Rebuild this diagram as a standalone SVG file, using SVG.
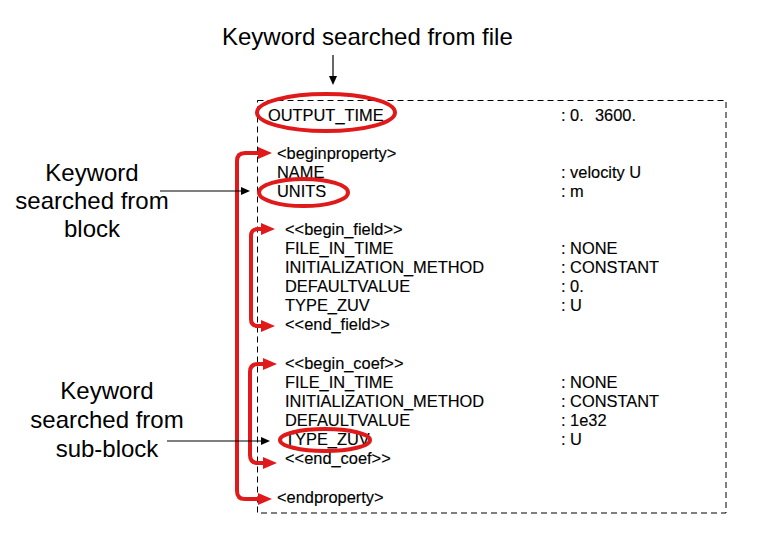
<svg xmlns="http://www.w3.org/2000/svg" width="757" height="537" viewBox="0 0 757 537">
  <style>
    .lbl { font-family: "Liberation Sans", Arial, sans-serif; font-size: 24px; fill: #000; }
    .code { font-family: "Liberation Sans", Arial, sans-serif; font-size: 16.4px; fill: #000; stroke: #000; stroke-width: 0.15; }
    .red { fill: none; stroke: #e01a1a; stroke-width: 4; }
    .blk { fill: none; stroke: #000; stroke-width: 1.2; }
  </style>
  <defs>
    <marker id="redHead" markerUnits="userSpaceOnUse" markerWidth="14" markerHeight="12" viewBox="0 0 14 12" refX="1" refY="6" orient="auto-start-reverse">
      <path d="M0,0 L14,6 L0,12 z" fill="#e01a1a"/>
    </marker>
    <marker id="blkHead" markerUnits="userSpaceOnUse" markerWidth="9" markerHeight="8" viewBox="0 0 9 8" refX="1" refY="4" orient="auto">
      <path d="M0,0 L9,4 L0,8 z" fill="#000"/>
    </marker>
  </defs>
  <rect width="757" height="537" fill="#fff"/>

  <g id="file-box">
    <rect x="257.5" y="100.5" width="468.5" height="412.5" fill="none" stroke="#000" stroke-width="1" stroke-dasharray="6,4"/>
  </g>

  <g id="label-file">
    <text class="lbl" x="222" y="45">Keyword searched from file</text>
  </g>
  <g id="label-block">
    <text class="lbl" x="92" y="181" text-anchor="middle">Keyword</text>
    <text class="lbl" x="92" y="209" text-anchor="middle">searched from</text>
    <text class="lbl" x="92" y="237" text-anchor="middle">block</text>
  </g>
  <g id="label-subblock">
    <text class="lbl" x="107" y="399" text-anchor="middle">Keyword</text>
    <text class="lbl" x="107" y="428" text-anchor="middle">searched from</text>
    <text class="lbl" x="107" y="457" text-anchor="middle">sub-block</text>
  </g>

  <g id="listing">
    <text class="code" x="268" y="121">OUTPUT_TIME</text>
    <text class="code" x="561" y="121">: 0.</text>
    <text class="code" x="595" y="121">3600.</text>

    <text class="code" x="277" y="159">&lt;beginproperty&gt;</text>
    <text class="code" x="277" y="178">NAME</text>
    <text class="code" x="561" y="178">: velocity U</text>
    <text class="code" x="277" y="197">UNITS</text>
    <text class="code" x="561" y="197">: m</text>

    <text class="code" x="285" y="235">&lt;&lt;begin_field&gt;&gt;</text>
    <text class="code" x="285" y="254">FILE_IN_TIME</text>
    <text class="code" x="561" y="254">: NONE</text>
    <text class="code" x="285" y="273">INITIALIZATION_METHOD</text>
    <text class="code" x="561" y="273">: CONSTANT</text>
    <text class="code" x="285" y="292">DEFAULTVALUE</text>
    <text class="code" x="561" y="292">: 0.</text>
    <text class="code" x="285" y="311">TYPE_ZUV</text>
    <text class="code" x="561" y="311">: U</text>
    <text class="code" x="285" y="330">&lt;&lt;end_field&gt;&gt;</text>

    <text class="code" x="285" y="369">&lt;&lt;begin_coef&gt;&gt;</text>
    <text class="code" x="285" y="388">FILE_IN_TIME</text>
    <text class="code" x="561" y="388">: NONE</text>
    <text class="code" x="285" y="407">INITIALIZATION_METHOD</text>
    <text class="code" x="561" y="407">: CONSTANT</text>
    <text class="code" x="285" y="426">DEFAULTVALUE</text>
    <text class="code" x="561" y="426">: 1e32</text>
    <text class="code" x="285" y="445">TYPE_ZUV</text>
    <text class="code" x="561" y="445">: U</text>
    <text class="code" x="285" y="464">&lt;&lt;end_coef&gt;&gt;</text>

    <text class="code" x="277" y="503">&lt;endproperty&gt;</text>
  </g>

  <g id="highlights">
    <ellipse class="red" cx="326" cy="112.5" rx="69" ry="18.5"/>
    <ellipse class="red" cx="303.5" cy="192.5" rx="44.5" ry="13.5"/>
    <ellipse class="red" cx="325" cy="440" rx="45" ry="11"/>
  </g>

  <g id="connectors">
    <path class="red" d="M259,153 H245 Q237,153 237,161 V491 Q237,499 245,499 H259" marker-start="url(#redHead)" marker-end="url(#redHead)"/>
    <path class="red" d="M262,229 H258 Q251,229 251,236 V319 Q251,326 258,326 H262" marker-start="url(#redHead)" marker-end="url(#redHead)"/>
    <path class="red" d="M264,364 H258 Q250,364 250,372 V455 Q250,463 258,463 H264" marker-start="url(#redHead)" marker-end="url(#redHead)"/>
    <line class="blk" x1="333" y1="55" x2="333" y2="77" marker-end="url(#blkHead)"/>
    <line class="blk" x1="160" y1="191" x2="242" y2="191" marker-end="url(#blkHead)"/>
    <line class="blk" x1="167" y1="441" x2="262" y2="441" marker-end="url(#blkHead)"/>
  </g>
</svg>
